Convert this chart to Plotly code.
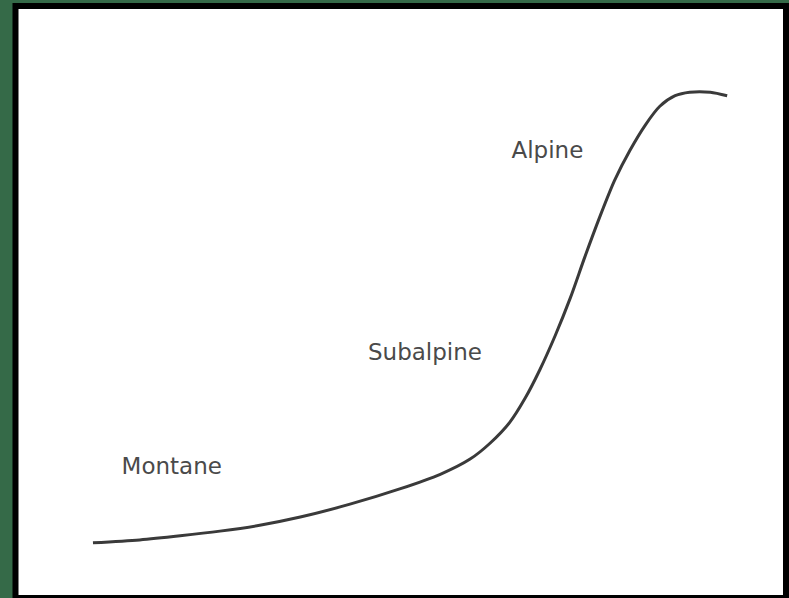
import plotly.graph_objects as go

# Schematic profile: relative distance vs. relative elevation
distance = [9.8, 15.9, 21.2, 26.4, 31.6, 36.9, 43.4, 49.9, 55.2, 59.1, 61.7, 64.3,
            66.3, 68.2, 70.2, 72.2, 74.1, 76.1, 78.0, 80.0, 82.0, 83.9, 85.9, 87.8,
            90.5, 92.7]
elevation = [8.9, 9.4, 10.1, 10.9, 11.9, 13.3, 15.5, 18.1, 20.6, 23.2, 25.9, 29.5,
             33.6, 38.4, 44.2, 50.7, 57.7, 64.7, 70.8, 75.9, 80.2, 83.4, 85.2, 85.8,
             85.8, 85.2]

# Vegetation zone labels
zone_names = ["Montane", "Subalpine", "Alpine"]
zone_x = [20.1, 53.2, 69.2]
zone_y = [21.7, 41.0, 75.6]

fig = go.Figure()
fig.add_trace(go.Scatter(
    x=distance, y=elevation, mode="lines",
    line=dict(color="#3a3a3a", width=3, shape="spline", smoothing=0.8),
    hoverinfo="skip", showlegend=False,
))
fig.add_trace(go.Scatter(
    x=zone_x, y=zone_y, mode="text", text=zone_names,
    textfont=dict(family="DejaVu Sans", size=23, color="#4a4a4a"),
    hoverinfo="skip", showlegend=False,
))

# Black frame around the white panel
fig.add_shape(type="rect", xref="paper", yref="paper",
              x0=-0.00327, x1=1.00392, y0=-0.00512, y1=1.00512,
              line=dict(color="#000000", width=6), fillcolor="rgba(0,0,0,0)",
              layer="above")

fig.update_layout(
    width=789, height=598,
    margin=dict(l=18, r=6, t=9, b=3),
    paper_bgcolor="#356a48",
    plot_bgcolor="#ffffff",
    xaxis=dict(range=[0, 100], visible=False, fixedrange=True),
    yaxis=dict(range=[0, 100], visible=False, fixedrange=True),
    showlegend=False,
)

fig.write_html("out.html", config={"displayModeBar": False})
